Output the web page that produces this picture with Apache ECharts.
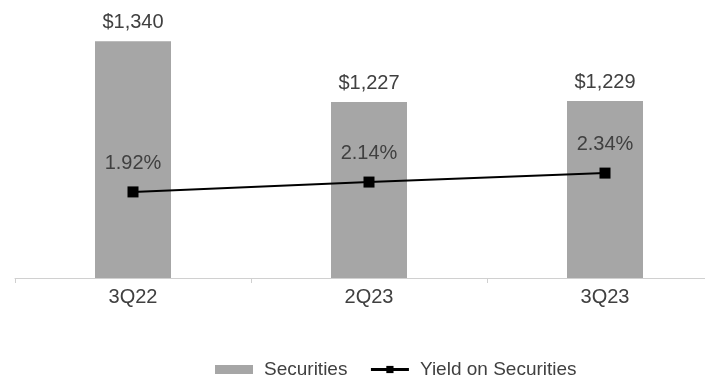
<!DOCTYPE html>
<html>
<head>
<meta charset="utf-8">
<script src="https://cdn.jsdelivr.net/npm/echarts@6/dist/echarts.min.js"></script>
<style>
  html, body { margin: 0; padding: 0; background: #fff; overflow: hidden; }
  /* the last category runs off the right edge in the original, so the canvas is wider than the page */
  #main { width: 723px; height: 378px; }
</style>
</head>
<body>
<div id="main"></div>
<script>
const categories = ["3Q22", "2Q23", "3Q23"];
const securities = [1340, 1227, 1229];
const yieldPct = [1.92, 2.14, 2.34];

const myChart = echarts.init(document.getElementById("main"));

const textColor = "#404040";
const font = "Liberation Sans";

const option = {
  animation: false,
  textStyle: { fontFamily: font },
  legend: {
    top: 355,
    left: 210,
    itemGap: 22,
    itemWidth: 38,
    itemHeight: 9,
    textStyle: { color: textColor, fontSize: 19, fontFamily: font, padding: [0, 0, 0, 6] },
    data: [
      { name: "Securities", icon: "rect" },
      { name: "Yield on Securities", lineStyle: { width: 3 } }
    ]
  },
  grid: {
    left: 15,
    right: 0,
    top: 9,
    bottom: 100
  },
  xAxis: {
    type: "category",
    data: categories,
    axisLine: { lineStyle: { color: "#d0d0d0", width: 1 } },
    axisTick: { show: true, length: 5, lineStyle: { color: "#d0d0d0" } },
    axisLabel: { color: textColor, fontSize: 20, margin: 9, fontFamily: font }
  },
  yAxis: [
    {
      type: "value",
      min: 900,
      max: 1400,
      show: false
    },
    {
      type: "value",
      min: 0,
      max: 6,
      show: false
    }
  ],
  series: [
    {
      name: "Securities",
      type: "bar",
      data: securities,
      barWidth: 76,
      itemStyle: { color: "#a6a6a6" },
      label: {
        show: true,
        position: "top",
        distance: 9,
        color: textColor,
        fontSize: 20,
        fontFamily: font,
        formatter: function (p) {
          return "$" + p.value.toLocaleString("en-US");
        }
      }
    },
    {
      name: "Yield on Securities",
      type: "line",
      yAxisIndex: 1,
      data: yieldPct,
      symbol: "rect",
      symbolSize: 11,
      lineStyle: { color: "#000", width: 2 },
      itemStyle: { color: "#000" },
      label: {
        show: true,
        position: "top",
        distance: 13,
        color: textColor,
        fontSize: 20,
        fontFamily: font,
        formatter: function (p) {
          return p.value.toFixed(2) + "%";
        }
      }
    }
  ]
};

myChart.setOption(option);
</script>
</body>
</html>
